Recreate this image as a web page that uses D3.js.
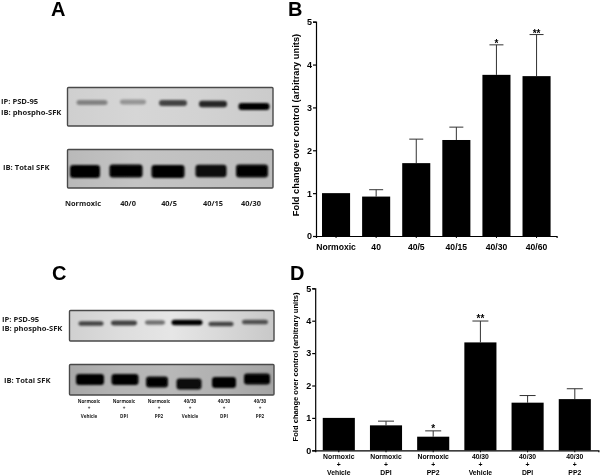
<!DOCTYPE html>
<html>
<head>
<meta charset="utf-8">
<script src="https://cdn.jsdelivr.net/npm/d3@7"></script>
<style>
  html, body { margin: 0; padding: 0; background: #fff; }
  svg { display: block; }
  text { fill: #000; }
  .axis-text { font-family: "Liberation Sans", Arial, sans-serif; font-weight: bold; }
  .blot-text { font-family: "Open Sans", sans-serif; font-weight: bold; fill: #1a1a1a; }
</style>
</head>
<body>
<svg id="chart" width="600" height="476"></svg>
<script>
// Panel B data
const catsB = ['Normoxic', '40', '40/5', '40/15', '40/30', '40/60'];
const meansB = [1, 0.92, 1.7, 2.24, 3.76, 3.73];
const upperB = [null, 1.08, 2.26, 2.54, 4.46, 4.7];
const starsB = ['', '', '', '', '*', '**'];

// Panel D data
const catsD = ['Normoxic|+|Vehicle', 'Normoxic|+|DPI', 'Normoxic|+|PP2', '40/30|+|Vehicle', '40/30|+|DPI', '40/30|+|PP2'];
const meansD = [1, 0.77, 0.42, 3.33, 1.47, 1.58];
const upperD = [null, 0.9, 0.6, 3.99, 1.69, 1.9];
const starsD = ['', '', '*', '**', '', ''];

const yTicks = [0, 1, 2, 3, 4, 5];

// Blot band strengths (0-1), one per lane
const lanesA = ['Normoxic', '40/0', '40/5', '40/15', '40/30'];
const phosphoA = [0.38, 0.3, 0.68, 0.82, 1];
const totalA = [1, 1, 1, 0.95, 0.97];

const lanesC = ['Normoxic|+|Vehicle', 'Normoxic|+|DPI', 'Normoxic|+|PP2', '40/30|+|Vehicle', '40/30|+|DPI', '40/30|+|PP2'];
const phosphoC = [0.68, 0.7, 0.5, 1, 0.68, 0.62];
const totalC = [1, 1, 0.97, 0.95, 1, 1];

const svg = d3.select('#chart');

// soft look of the scanned figure
const defs = svg.append('defs');
defs.append('filter').attr('id', 'soft').append('feGaussianBlur').attr('stdDeviation', 0.35);
defs.append('filter').attr('id', 'bandBlur')
    .attr('x', '-30%').attr('y', '-80%').attr('width', '160%').attr('height', '260%')
    .append('feGaussianBlur').attr('stdDeviation', 1.1);
defs.append('filter').attr('id', 'panelBlur').append('feGaussianBlur').attr('stdDeviation', 0.45);

const root = svg.append('g').attr('filter', 'url(#soft)');

// Panel letters
const letters = [['A', 51, 16], ['B', 288, 16], ['C', 52, 280], ['D', 290, 280]];
root.selectAll('.letter').data(letters).enter().append('text')
    .attr('class', 'axis-text')
    .attr('x', d => d[0] === 'A' ? d[1] : d[1])
    .attr('y', d => d[2])
    .style('font-size', '20px')
    .text(d => d[0]);

function drawBarPanel(cfg) {
    const g = root.append('g');
    const x = d3.scaleBand().domain(cfg.cats).range(cfg.xRange).paddingInner(cfg.pad).paddingOuter(cfg.pad / 2);
    const y = d3.scaleLinear().domain([0, 5]).range(cfg.yRange);

    // error bars first, bars cover the lower half
    cfg.cats.forEach((c, i) => {
        if (cfg.upper[i] === null) return;
        const cx = x(c) + x.bandwidth() / 2;
        g.append('line').attr('x1', cx).attr('x2', cx)
            .attr('y1', y(cfg.means[i])).attr('y2', y(cfg.upper[i]))
            .attr('stroke', '#333').attr('stroke-width', 1);
        g.append('line').attr('x1', cx - cfg.cap).attr('x2', cx + cfg.cap)
            .attr('y1', y(cfg.upper[i])).attr('y2', y(cfg.upper[i]))
            .attr('stroke', '#333').attr('stroke-width', 1);
    });

    g.selectAll('rect.bar').data(cfg.cats).enter().append('rect')
        .attr('class', 'bar')
        .attr('x', d => x(d))
        .attr('width', x.bandwidth())
        .attr('y', (d, i) => y(cfg.means[i]))
        .attr('height', (d, i) => y(0) - y(cfg.means[i]))
        .attr('fill', '#000');

    // Y axis
    const yAxis = g.append('g')
        .attr('transform', `translate(${cfg.xRange[0]},0)`)
        .call(d3.axisLeft(y).tickValues(yTicks).tickFormat(d3.format('d')).tickSize(3).tickPadding(1));
    yAxis.selectAll('text').attr('class', 'axis-text').style('font-size', '9px');
    yAxis.selectAll('line').attr('stroke', '#000').attr('stroke-width', 1.2);
    yAxis.select('.domain').attr('stroke', '#000').attr('stroke-width', 1.2);

    // X axis
    const xAxis = g.append('g')
        .attr('transform', `translate(0,${cfg.yRange[0]})`)
        .call(d3.axisBottom(x).tickSize(2).tickFormat(''));
    xAxis.selectAll('line').attr('stroke', '#000').attr('stroke-width', 1);
    xAxis.select('.domain').attr('stroke', '#000').attr('stroke-width', 1.2);

    // Category labels
    cfg.cats.forEach(c => {
        c.split('|').forEach((part, k) => {
            g.append('text').attr('class', 'axis-text')
                .attr('x', x(c) + x.bandwidth() / 2)
                .attr('y', cfg.yRange[0] + cfg.labelY + k * cfg.labelStep)
                .attr('text-anchor', 'middle')
                .style('font-size', cfg.labelSize + 'px')
                .text(part);
        });
    });

    // Significance stars
    cfg.cats.forEach((c, i) => {
        if (!cfg.stars[i]) return;
        g.append('text').attr('class', 'axis-text')
            .attr('x', x(c) + x.bandwidth() / 2)
            .attr('y', y(cfg.upper[i]) - cfg.starGap)
            .attr('text-anchor', 'middle')
            .style('font-size', '10px')
            .text(cfg.stars[i]);
    });

    // Y title
    const midY = cfg.titleMid;
    g.append('text').attr('class', 'axis-text')
        .attr('transform', `translate(${cfg.titleX},${midY}) rotate(-90)`)
        .attr('text-anchor', 'middle')
        .style('font-size', cfg.titleSize + 'px')
        .text('Fold change over control (arbitrary units)');
}

function drawBlot(cfg) {
    const g = root.append('g');
    const gradId = cfg.id + 'grad';
    const grad = defs.append('linearGradient').attr('id', gradId);
    cfg.bg.forEach((c, i) => {
        grad.append('stop').attr('offset', (i / (cfg.bg.length - 1) * 100) + '%').attr('stop-color', c);
    });
    g.append('rect')
        .attr('x', cfg.x).attr('y', cfg.y).attr('width', cfg.w).attr('height', cfg.h)
        .attr('fill', `url(#${gradId})`)
        .attr('stroke', '#4a4a4a').attr('stroke-width', 1.4).attr('rx', 1);
    cfg.strengths.forEach((s, i) => {
        g.append('rect')
            .attr('x', cfg.laneX[i] - cfg.bandW[i] / 2)
            .attr('y', cfg.laneY[i] - cfg.bandH * (0.55 + s * 0.45) / 2)
            .attr('width', cfg.bandW[i])
            .attr('height', cfg.bandH * (0.55 + s * 0.45))
            .attr('rx', 3)
            .attr('fill', '#000')
            .attr('opacity', s)
            .attr('filter', 'url(#bandBlur)');
    });
}

function sideLabels(lines) {
    root.selectAll(null).data(lines).enter().append('text')
        .attr('class', 'blot-text')
        .attr('x', d => d[1])
        .attr('y', d => d[2])
        .style('font-size', '7.6px')
        .text(d => d[0]);
}

drawBarPanel({
    cats: catsB, means: meansB, upper: upperB, stars: starsB,
    xRange: [316, 556.6], yRange: [236, 21.7], pad: 0.3, cap: 7,
    labelY: 14, labelStep: 0, labelSize: 8.6, starGap: -2,
    titleX: 299, titleMid: 125, titleSize: 9.3
});

drawBarPanel({
    cats: catsD, means: meansD, upper: upperD, stars: starsD,
    xRange: [315.2, 598.4], yRange: [450.3, 288.3], pad: 0.32, cap: 8,
    labelY: 9, labelStep: 8, labelSize: 6.8, starGap: -1,
    titleX: 298, titleMid: 367, titleSize: 7.6
});

// Panel A blots
drawBlot({ id: 'a1', x: 67.5, y: 87.5, w: 205.5, h: 38.5, bg: ['#cfcfcf', '#d6d6d6', '#d2d2d2', '#cbcbcb'],
    strengths: phosphoA, laneX: [92, 133, 173, 213, 254], laneY: [102.5, 102, 103, 104, 106.5],
    bandW: [31, 26, 28, 28, 31], bandH: 7 });
drawBlot({ id: 'a2', x: 67.5, y: 149.5, w: 205.5, h: 38.5, bg: ['#b9b9b9', '#c4c4c4', '#c0c0c0', '#bcbcbc'],
    strengths: totalA, laneX: [85, 126, 168, 211, 252], laneY: [171.5, 171, 171.5, 171, 171],
    bandW: [30, 33, 33, 31, 32], bandH: 13 });

// Panel C blots
drawBlot({ id: 'c1', x: 69.5, y: 310.5, w: 204.5, h: 30.5, bg: ['#d0d0d0', '#dddddd', '#e6e6e6', '#d8d8d8', '#c8c8c8'],
    strengths: phosphoC, laneX: [91, 124, 155, 187, 221, 255], laneY: [323.5, 323, 322.5, 322.5, 324, 322],
    bandW: [25, 26, 20, 31, 25, 26], bandH: 5.5 });
drawBlot({ id: 'c2', x: 69.5, y: 364.5, w: 204.5, h: 30.5, bg: ['#a8a8a8', '#b4b4b4', '#b8b8b8', '#b0b0b0', '#a4a4a4'],
    strengths: totalC, laneX: [90, 125, 157, 189, 224, 257], laneY: [379.5, 379.5, 382, 384, 382.5, 379],
    bandW: [28, 27, 22, 25, 24, 26], bandH: 11 });

sideLabels([['IP: PSD-95', 1, 104], ['IB: phospho-SFK', 1, 115], ['IB: Total SFK', 3, 170]]);
sideLabels([['IP: PSD-95', 2, 322], ['IB: phospho-SFK', 2, 331], ['IB: Total SFK', 4, 383]]);

// Lane labels under blot A
const laneLabelX = [83, 128, 169, 213, 251];
root.selectAll(null).data(lanesA).enter().append('text')
    .attr('class', 'blot-text')
    .attr('x', (d, i) => laneLabelX[i])
    .attr('y', 206)
    .attr('text-anchor', 'middle')
    .style('font-size', '7.4px')
    .text(d => d);

// Lane labels under blot C, three rows each
const laneLabelCX = [89, 124, 159, 190, 224, 260];
lanesC.forEach((lane, i) => {
    lane.split('|').forEach((part, k) => {
        root.append('text').attr('class', 'blot-text')
            .attr('x', laneLabelCX[i])
            .attr('y', 403 + k * 7.3)
            .attr('text-anchor', 'middle')
            .style('font-size', '4.6px')
            .text(part);
    });
});
</script>
</body>
</html>
